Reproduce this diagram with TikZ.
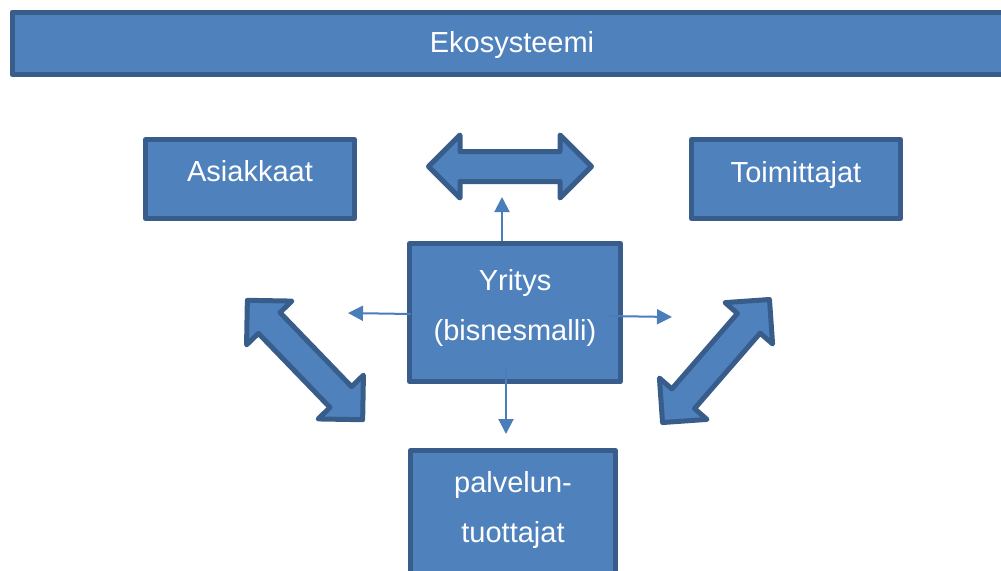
\documentclass[tikz,border=0pt]{standalone}
\usepackage{fontspec}
\setmainfont{Liberation Sans}
\usetikzlibrary{shapes.arrows}
\usetikzlibrary{arrows.meta}
\definecolor{boxfill}{HTML}{4F81BD}
\definecolor{boxline}{HTML}{385D8A}
\definecolor{linkline}{HTML}{4A7EBB}
\begin{document}
\begin{tikzpicture}[x=0.5pt,y=-0.5pt,
	box/.style={draw=boxline, fill=boxfill, line width=2.5pt, line join=round, text=white, inner sep=0pt, font=\fontsize{14.5pt}{25pt}\selectfont, align=center},
	bigarrow/.style={double arrow, draw=boxline, fill=boxfill, line width=2.5pt, line join=round, minimum width=0pt, inner xsep=0pt, inner ysep=6.25pt, double arrow head extend=8.25pt},
	link/.style={linkline, line width=1pt, -{Triangle[length=7.5pt,width=7.5pt]}}]
			\useasboundingbox (0,0) rectangle (1001,570);
			\node[box, minimum width=500pt, text height=20pt, text depth=11.25pt] (E) at (512,43.25) {Ekosysteemi};
			\node[box, minimum width=104.5pt, text height=20.75pt, text depth=18.75pt] (A) at (250,179) {Asiakkaat};
			\node[box, minimum width=104.5pt, text height=21.25pt, text depth=18.25pt] (T) at (796,179) {Toimittajat};
			\node[box, minimum width=105.5pt, text width=100pt, text height=23.25pt, text depth=45.75pt] (Y) at (515,312.5) {Yritys\\(bisnesmalli)};
			\node[box, minimum width=102.5pt, text width=95pt, text height=20.75pt, text depth=64pt] (P) at (513,535.25) {palvelun-\\tuottajat};
			\node[bigarrow, minimum height=81.5pt] (D1) at (510,166.5) {};
			\node[bigarrow, minimum height=83pt, rotate=-46] (D2) at (305,360) {};
			\node[bigarrow, minimum height=81.5pt, rotate=49] (D3) at (716,361) {};
			\coordinate (C1) at (502,197);
			\coordinate (C2) at (348,313);
			\coordinate (C3) at (672,317);
			\coordinate (C4) at (506,434);
			\draw[link] ([xshift=-6.5pt]Y.north) -- (C1);
			\draw[link] ([xshift=2pt,yshift=-0.75pt]Y.west) -- (C2);
			\draw[link] ([xshift=-8pt,yshift=-1.75pt]Y.east) -- (C3);
			\draw[link] ([xshift=-4.5pt,yshift=8.5pt]Y.south) -- (C4);
		\end{tikzpicture}
\end{document}
